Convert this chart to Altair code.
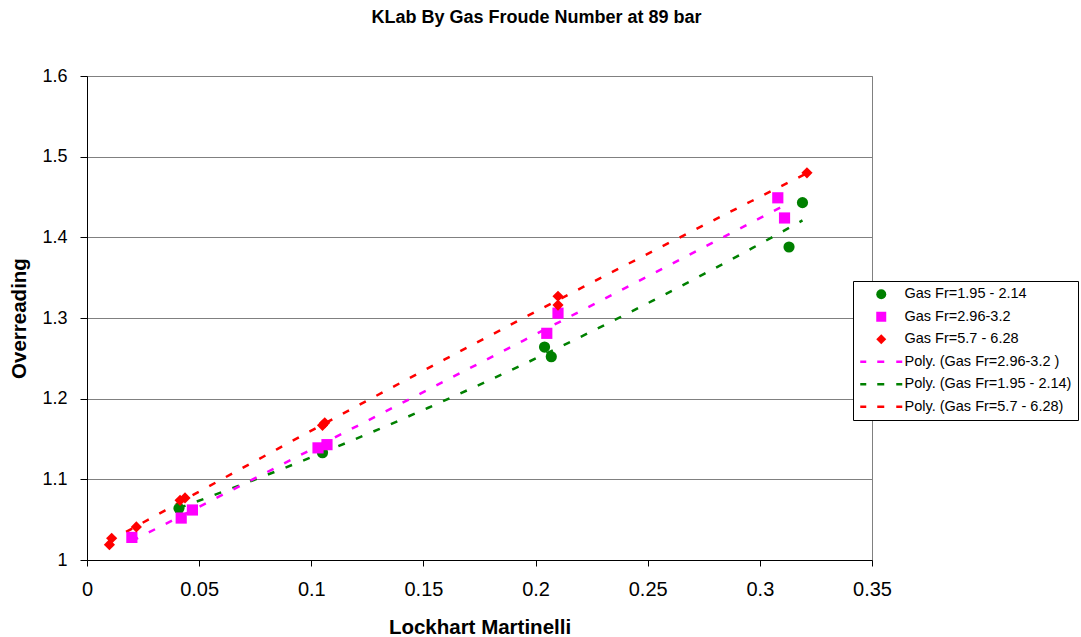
import altair as alt
import pandas as pd

# ---- data ----
green_x = [0.041, 0.105, 0.204, 0.207, 0.313, 0.319]
green_y = [1.064, 1.133, 1.264, 1.252, 1.388, 1.443]

magenta_x = [0.020, 0.042, 0.047, 0.103, 0.107, 0.205, 0.210, 0.308, 0.311]
magenta_y = [1.028, 1.052, 1.062, 1.139, 1.143, 1.281, 1.306, 1.449, 1.424]

red_x = [0.010, 0.011, 0.022, 0.0415, 0.0437, 0.105, 0.106, 0.210, 0.210, 0.321]
red_y = [1.019, 1.027, 1.041, 1.074, 1.077, 1.167, 1.170, 1.327, 1.316, 1.480]

series_names = ["Gas Fr=1.95 - 2.14", "Gas Fr=2.96-3.2", "Gas Fr=5.7 - 6.28"]
trend_names = ["Poly. (Gas Fr=1.95 - 2.14)", "Poly. (Gas Fr=2.96-3.2 )", "Poly. (Gas Fr=5.7 - 6.28)"]
legend_order = [
    "Gas Fr=1.95 - 2.14", "Gas Fr=2.96-3.2", "Gas Fr=5.7 - 6.28",
    "Poly. (Gas Fr=2.96-3.2 )", "Poly. (Gas Fr=1.95 - 2.14)", "Poly. (Gas Fr=5.7 - 6.28)",
]
colors = ["#008000", "#FF00FF", "#FF0000", "#FF00FF", "#008000", "#FF0000"]
dash_path = "M-4.2,-0.25H-3V0.25H-4.2Z M-0.8,-0.25H0.6V0.25H-0.8Z M3,-0.25H4.2V0.25H3Z"
shapes = ["circle", "square", "diamond", dash_path, dash_path, dash_path]

x_ticks = [0, 0.05, 0.1, 0.15, 0.2, 0.25, 0.3, 0.35]
y_ticks = [1.0, 1.1, 1.2, 1.3, 1.4, 1.5, 1.6]

rows = []
for xs, ys, s, t in zip([green_x, magenta_x, red_x], [green_y, magenta_y, red_y],
                        series_names, trend_names):
    for xv, yv in zip(xs, ys):
        rows.append({"x": xv, "y": yv, "series": s, "trend": t})
df = pd.DataFrame(rows)

FONT = "Liberation Sans"

color_scale = alt.Scale(domain=legend_order, range=colors)
shape_scale = alt.Scale(domain=legend_order, range=shapes)

x_enc = alt.X("x:Q", scale=alt.Scale(domain=[0, 0.35], nice=False, zero=False),
              axis=alt.Axis(title="Lockhart Martinelli", values=x_ticks, format=".2~f",
                            grid=False, labelFlush=False, labelOverlap=False,
                            titleY=73, titleBaseline="alphabetic"))
y_enc = alt.Y("y:Q", scale=alt.Scale(domain=[1.0, 1.6], nice=False, zero=False),
              axis=alt.Axis(title="Overreading", values=y_ticks, format=".1~f",
                            grid=True, labelFlush=False, labelOverlap=False,
                            titleX=-62, titleY=242, titleBaseline="alphabetic",
                            titleAlign="center"))

lines = alt.Chart(df).transform_regression(
    "x", "y", method="poly", order=2, groupby=["trend"]
).mark_line(strokeDash=[7, 12], strokeWidth=2.5, clip=True).encode(
    x=x_enc, y=y_enc,
    color=alt.Color("trend:N", scale=color_scale, legend=None),
)

leg = alt.Legend(title=None, orient="none", legendX=766, legendY=205, values=legend_order,
                 labelLimit=400)
points = alt.Chart(df).mark_point(filled=True, opacity=1, size=125).encode(
    x=x_enc, y=y_enc,
    color=alt.Color("series:N", scale=color_scale, legend=leg),
    shape=alt.Shape("series:N", scale=shape_scale, legend=leg),
)

chart = alt.layer(lines, points).resolve_legend(
    color="independent", shape="independent"
).properties(
    width=785, height=484,
    autosize=alt.AutoSizeParams(type="none"),
    padding={"left": 87, "top": 76, "right": 209, "bottom": 77},
    title=alt.Title("KLab By Gas Froude Number at 89 bar", font=FONT, fontSize=18,
                    fontWeight="bold", color="black", anchor="middle", frame="group",
                    dx=57, offset=26, baseline="alphabetic"),
).configure(
    font=FONT,
).configure_view(
    stroke="#808080", strokeWidth=1,
).configure_axis(
    labelFont=FONT, labelColor="black",
    titleFont=FONT, titleFontSize=20.5, titleFontWeight="bold", titleColor="black",
    domainColor="black", domainWidth=1, tickColor="black", tickWidth=1, tickSize=6,
    gridColor="#808080", gridWidth=1, gridOpacity=1,
).configure_axisX(
    labelPadding=13, labelFontSize=20,
).configure_axisY(
    labelPadding=13, tickSize=7, labelFontSize=18,
).configure_legend(
    labelFont=FONT, labelFontSize=14.5, labelColor="black", labelLimit=400,
    strokeColor="black", strokeWidth=1, fillColor="white",
    padding=6, symbolOffset=15, labelOffset=16, rowPadding=7.5,
    symbolSize=100, symbolStrokeWidth=0,
)

chart.save("out.html", embed_options={"renderer": "svg", "actions": False})
